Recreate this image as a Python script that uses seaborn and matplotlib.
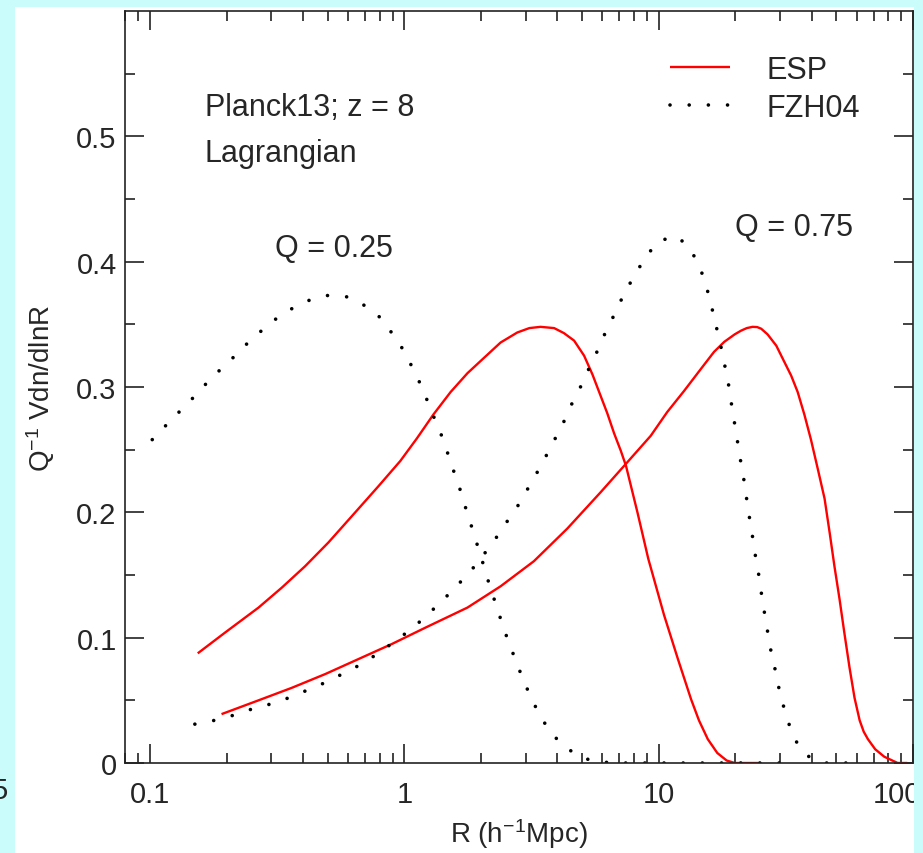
import numpy as np
import pandas as pd
import matplotlib
matplotlib.use("Agg")
import matplotlib.pyplot as plt
from matplotlib.patches import Rectangle
from matplotlib.lines import Line2D
from matplotlib.transforms import ScaledTranslation
from matplotlib.ticker import FixedLocator, NullFormatter, FixedFormatter
import seaborn as sns

# ---------------- data ----------------
esp_q25_R = [0.154, 0.197, 0.267, 0.330, 0.407, 0.503, 0.641, 0.792, 0.964, 1.12,
             1.30, 1.52, 1.77, 2.05, 2.39, 2.78, 3.10, 3.43, 3.88, 4.24, 4.65,
             5.09, 5.49, 5.91, 6.28, 6.68, 7.10, 7.44, 8.25, 9.10, 10.5,
             11.9, 13.4, 14.4, 15.6, 17.0, 18.5, 19.9, 25.0]
esp_q25_v = [0.0875, 0.104, 0.124, 0.140, 0.157, 0.176, 0.200, 0.221, 0.241, 0.259,
             0.278, 0.296, 0.311, 0.323, 0.3355, 0.3435, 0.347, 0.348, 0.347, 0.343, 0.337,
             0.325, 0.310, 0.293, 0.279, 0.263, 0.249, 0.237, 0.200, 0.163, 0.118,
             0.083, 0.051, 0.034, 0.019, 0.008, 0.002, 0.0, 0.0]

fzh_q25_R = [0.102, 0.115, 0.130, 0.147, 0.165, 0.187, 0.211, 0.239, 0.271, 0.311,
             0.357, 0.420, 0.497, 0.592, 0.698, 0.797, 0.886, 0.98, 1.06, 1.14,
             1.22, 1.30, 1.39, 1.47, 1.55, 1.64, 1.72, 1.81, 1.90, 2.00,
             2.10, 2.21, 2.33, 2.46, 2.60, 2.76, 2.94, 3.15, 3.39, 3.71,
             4.15, 4.79, 5.6, 7.0, 10.0, 20.0, 30.0]
fzh_q25_v = [0.258, 0.269, 0.280, 0.291, 0.302, 0.313, 0.323, 0.334, 0.344, 0.354,
             0.362, 0.369, 0.373, 0.372, 0.365, 0.356, 0.344, 0.331, 0.318, 0.305,
             0.291, 0.277, 0.263, 0.249, 0.235, 0.221, 0.207, 0.193, 0.179, 0.165,
             0.150, 0.136, 0.122, 0.107, 0.094, 0.080, 0.066, 0.052, 0.039, 0.026,
             0.015, 0.006, 0.001, 0.0, 0.0, 0.0, 0.0]

esp_q75_R = [0.191, 0.267, 0.361, 0.489, 0.661, 0.894, 1.21, 1.77, 2.39, 3.23,
             4.37, 5.91, 7.53, 9.3, 10.8, 12.6, 14.6, 16.5, 18.1, 19.9,
             21.1, 22.2, 23.4, 24.4, 25.3, 26.8, 29.0, 31.2, 33.2, 35.2, 37.4, 39.7,
             42.3, 44.9, 47.0, 49.1, 51.4, 53.7, 56.3, 58.9, 61.7, 64.0, 66.5,
             71.0, 77.1, 87.0, 95.0]
esp_q75_v = [0.039, 0.050, 0.060, 0.071, 0.083, 0.095, 0.108, 0.124, 0.141, 0.161,
             0.187, 0.216, 0.240, 0.261, 0.280, 0.297, 0.314, 0.328, 0.336, 0.342,
             0.345, 0.347, 0.348, 0.3478, 0.3465, 0.342, 0.333, 0.320, 0.309, 0.296, 0.278, 0.258,
             0.234, 0.211, 0.184, 0.157, 0.131, 0.104, 0.076, 0.052, 0.034, 0.025, 0.019,
             0.011, 0.005, 0.0, 0.0]

fzh_q75_R = [0.150, 0.179, 0.212, 0.251, 0.297, 0.351, 0.414, 0.486, 0.570, 0.665,
             0.769, 0.889, 1.02, 1.17, 1.32, 1.50, 1.69, 1.89, 2.10, 2.32,
             2.56, 2.81, 3.06, 3.33, 3.63, 3.92, 4.23, 4.54, 4.90, 5.27,
             5.66, 6.06, 6.52, 7.02, 7.58, 8.25, 9.05, 10.1, 11.9, 13.4,
             14.5, 15.3, 16.0, 16.6, 17.3, 17.9, 18.5, 19.1, 19.5, 20.1,
             20.6, 21.2, 21.8, 22.3, 22.9, 23.5, 24.1, 24.8, 25.4, 26.1,
             26.8, 27.6, 28.6, 29.6, 30.9, 32.4, 34.5, 38.1, 45.0, 60.0]
fzh_q75_v = [0.031, 0.034, 0.038, 0.043, 0.047, 0.052, 0.058, 0.064, 0.071, 0.078,
             0.086, 0.095, 0.104, 0.114, 0.124, 0.135, 0.146, 0.157, 0.169, 0.181,
             0.194, 0.206, 0.219, 0.232, 0.246, 0.259, 0.272, 0.286, 0.299, 0.313,
             0.326, 0.340, 0.353, 0.367, 0.380, 0.393, 0.406, 0.417, 0.420, 0.409,
             0.396, 0.382, 0.368, 0.353, 0.339, 0.324, 0.310, 0.295, 0.280, 0.266,
             0.251, 0.236, 0.222, 0.207, 0.192, 0.178, 0.163, 0.149, 0.134, 0.119,
             0.105, 0.090, 0.076, 0.061, 0.046, 0.032, 0.018, 0.006, 0.0, 0.0]

xtick_vals = [0.1, 1, 10, 100]
xtick_labels = ["0.1", "1", "10", "100"]
ytick_vals = [0, 0.1, 0.2, 0.3, 0.4, 0.5]
ytick_labels = ["0", "0.1", "0.2", "0.3", "0.4", "0.5"]

# ---------------- style ----------------
sns.set_style("white")
plt.rcParams["font.family"] = ["Liberation Sans", "DejaVu Sans"]
plt.rcParams["mathtext.fontset"] = "custom"
plt.rcParams["mathtext.rm"] = "Liberation Sans"
plt.rcParams["mathtext.it"] = "Liberation Sans"

W, H = 923, 854
CYAN = "#cafcfc"
fig = plt.figure(figsize=(W / 100, H / 100), dpi=100, facecolor=CYAN)
fig.patches.append(Rectangle((15 / W, 0), (914 - 15) / W, (H - 8) / H,
                             transform=fig.transFigure, facecolor="white",
                             edgecolor="none", zorder=-5))
L, R_, T, B = 125, 913, 12, 764
ax = fig.add_axes([L / W, 1 - B / H, (R_ - L) / W, (B - T) / H])
ax.set_facecolor("white")

red = "#ff0000"
red_style = dict(color=red, linewidth=1.7, solid_joinstyle="round", solid_capstyle="butt")
dot_style = dict(linestyle=(0, (0.01, 5.3)), dash_capstyle="round", linewidth=2.6, color="black")

sns.lineplot(x=esp_q25_R, y=esp_q25_v, ax=ax, sort=False, estimator=None, **red_style)
sns.lineplot(x=esp_q75_R, y=esp_q75_v, ax=ax, sort=False, estimator=None, **red_style)
sns.lineplot(x=fzh_q25_R, y=fzh_q25_v, ax=ax, sort=False, estimator=None, **dot_style)
sns.lineplot(x=fzh_q75_R, y=fzh_q75_v, ax=ax, sort=False, estimator=None, **dot_style)

ax.set_xscale("log")
ax.set_xlim(0.0797, 100)
ax.set_ylim(0, 0.6)

minors = []
for dec in [0.01, 0.1, 1, 10]:
    for k in range(2, 10):
        minors.append(k * dec)
ax.xaxis.set_major_locator(FixedLocator(xtick_vals))
ax.xaxis.set_major_formatter(FixedFormatter(xtick_labels))
ax.xaxis.set_minor_locator(FixedLocator(minors))
ax.xaxis.set_minor_formatter(NullFormatter())
ax.yaxis.set_major_locator(FixedLocator(ytick_vals))
ax.yaxis.set_major_formatter(FixedFormatter(ytick_labels))
ax.yaxis.set_minor_locator(FixedLocator([0.05, 0.15, 0.25, 0.35, 0.45, 0.55]))

for s in ax.spines.values():
    s.set_visible(True)
    s.set_linewidth(1.2)
    s.set_color("#222222")
ax.tick_params(which="both", direction="in", top=True, right=True, bottom=True, left=True,
               width=1.2, color="#222222")
ax.tick_params(which="major", length=14, labelsize=21)
ax.tick_params(which="minor", length=7)
ax.tick_params(axis="x", which="major", pad=12)
ax.tick_params(axis="y", which="major", pad=6)

ax.set_xlabel("R (h$^{-1}$Mpc)", fontsize=20, labelpad=6)
ax.set_ylabel("Q$^{-1}$ Vdn/dlnR", fontsize=20, labelpad=14)

ax.text(0.1015, 0.862, "Planck13; z = 8", transform=ax.transAxes, fontsize=22, va="baseline")
ax.text(0.1015, 0.801, "Lagrangian", transform=ax.transAxes, fontsize=22, va="baseline")
ax.text(0.190, 0.674, "Q = 0.25", transform=ax.transAxes, fontsize=22, va="baseline")
ax.text(0.774, 0.702, "Q = 0.75", transform=ax.transAxes, fontsize=22, va="baseline")

handles = [Line2D([], [], **red_style),
           Line2D([], [], **dot_style)]
ax.legend(handles, ["ESP", "FZH04"], loc="upper left",
          bbox_to_anchor=((670 - L) / (R_ - L), (B - 56) / (B - T)),
          frameon=False, fontsize=22, handlelength=1.95, handletextpad=1.2,
          labelspacing=0.25, borderpad=0, borderaxespad=0)

# the "100" label sits a little left of its tick in the reference
last = ax.xaxis.get_major_ticks()[-1].label1
last.set_transform(last.get_transform() + ScaledTranslation(-16 / 100, 0, fig.dpi_scale_trans))

# clipped remnant of a tick label at the left edge
fig.text(8 / W, 1 - 791 / H, "5", fontsize=21, ha="right", va="center")
fig.patches.append(Rectangle((914 / W, 0), (W - 914) / W, 1, transform=fig.transFigure,
                             facecolor=CYAN, edgecolor="none", zorder=10))

fig.savefig("out.png", dpi=100, facecolor=fig.get_facecolor())
